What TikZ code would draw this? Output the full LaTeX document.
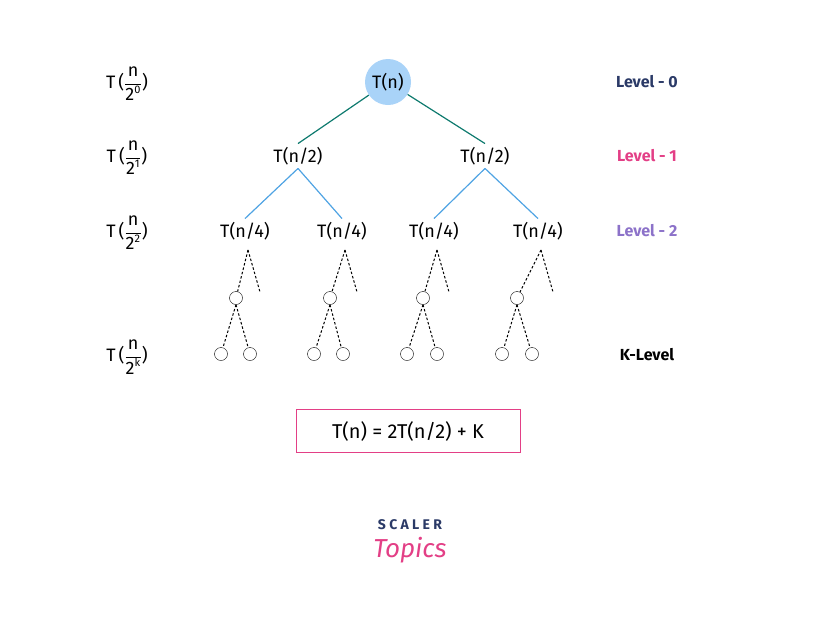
\documentclass[tikz,border=0pt]{standalone}
\usepackage{fontspec}
\setmainfont{Fira Sans}
\definecolor{teal2}{HTML}{0E7A6E}
\definecolor{blue2}{HTML}{4FA3E3}
\definecolor{rootfill}{HTML}{A9D3F8}
\definecolor{navy}{HTML}{2B3A67}
\definecolor{pink2}{HTML}{E33F86}
\definecolor{purp}{HTML}{8C72C9}
\newcommand{\myfr}[1]{$\displaystyle\frac{\mbox{n}}{\mbox{2}^{\mbox{\fontsize{11}{12}\selectfont #1}}}$}
\begin{document}
\begin{tikzpicture}[x=1pt,y=-1pt,
  lbl/.style={font=\fontsize{18}{21}\selectfont},
  dl/.style={line width=1pt, dash pattern=on 2.5pt off 2pt},
  sc/.style={circle,draw,inner sep=0pt,minimum size=13pt},
  lev/.style={font=\fontsize{16}{19}\selectfont\bfseries}]
\useasboundingbox (0,0) rectangle (816,619);
\node[circle,fill=rootfill,minimum size=46pt,inner sep=0pt,lbl] (r) at (388,82) {T(n)};
\node[lbl] (a) at (298,156) {T(n/2)};
\node[lbl] (b) at (485,156) {T(n/2)};
\draw[teal2,line width=1.2pt] (r) -- (a.north); \draw[teal2,line width=1.2pt] (r) -- (b.north);
\foreach \x/\p in {245/a,342/a,434/b,538/b}{
  \node[lbl] (c\x) at (\x,231) {T(n/4)};
  \draw[blue2,line width=1.2pt] (\p.south) -- (c\x.north);
}
\foreach \x/\c/\l/\r in {245/236/221/250,342/330/314/343,434/423/407/437,538/517/502/532}{
  \coordinate (t\x) at (\x+3,250);
  \coordinate (e\x) at (\x+15,292);
  \node[sc] (m\x) at (\c,298) {};
  \node[sc] (l\x) at (\l,354) {};
  \node[sc] (q\x) at (\r,354) {};
  \draw[dl] (t\x) -- (m\x); \draw[dl] (t\x) -- (e\x);
  \draw[dl] (m\x.south) -- (l\x); \draw[dl] (m\x.south) -- (q\x);
}
\foreach \y/\e/\n in {82/0/0,156/1/1,231/2/2,355/k/k}{
  \node[lbl] (L\n) at (127,\y+2) {T\,(\myfr{\e})};
}
\node[lev,text=navy] (v0) at (647,82) {Level - 0};
\node[lev,text=pink2] (v1) at (647,156) {Level - 1};
\node[lev,text=purp] (v2) at (647,231) {Level - 2};
\node[lev] (vk) at (647,355) {K-Level};
\node[draw=pink2,minimum width=224pt,minimum height=43pt,font=\fontsize{20}{23}\selectfont] (f) at (408,431) {T(n) = 2T(n/2) + K};
\node[font=\fontsize{14}{15}\selectfont\bfseries,text=navy] (s) at (410,525) {S C A L E R};
\node[font=\fontsize{26}{28}\selectfont\itshape,text=pink2] (tp) at (410,550) {Topics};
\end{tikzpicture}
\end{document}
